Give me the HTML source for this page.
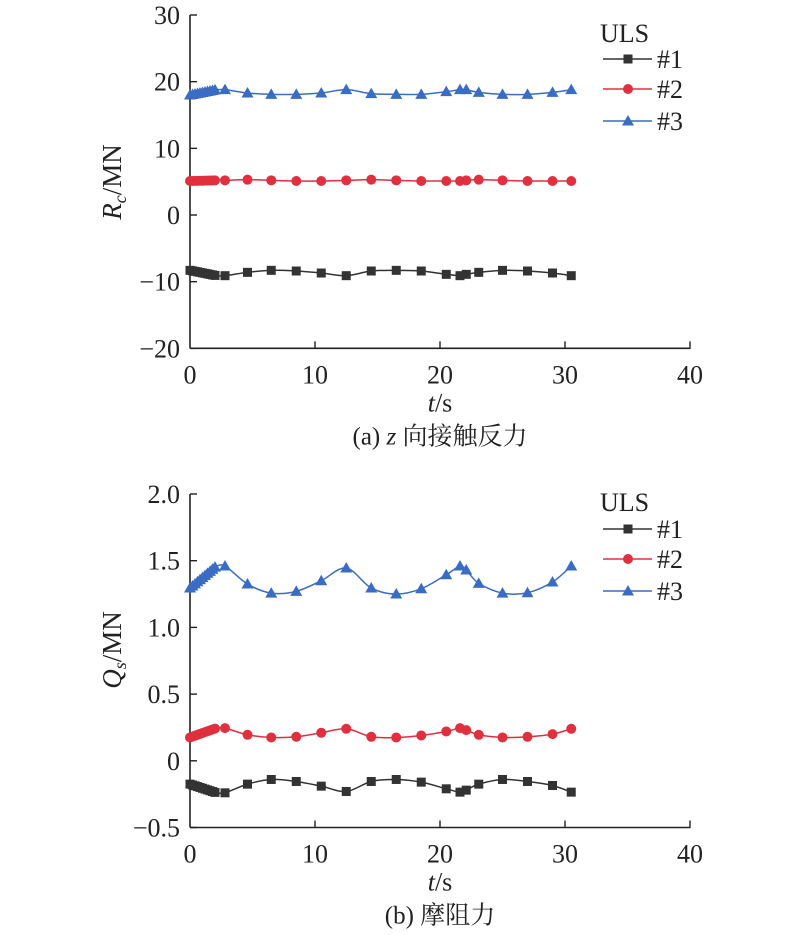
<!DOCTYPE html>
<html><head><meta charset="utf-8">
<style>
html,body{margin:0;padding:0;background:#fff;}
text{font-family:"Liberation Serif","Noto Serif CJK SC",serif;fill:#222;}
</style></head>
<body>
<svg id="s" width="800" height="930" xmlns="http://www.w3.org/2000/svg" font-family="'Liberation Serif','Noto Serif CJK SC',serif"></svg>
<script>
const S=document.getElementById('s');
let h='';
const T=[0,2.8,4.6,6.5,8.5,10.5,12.5,14.5,16.5,18.5,20.5,21.6,22.1,23.1,25,27,29,30.5];
function chart(o){
  const X=t=>190+t*12.5;
  const Y=v=>o.y0+(o.vmax-v)*o.k;
  const ybot=Y(o.vmin), ytop=Y(o.vmax);
  h+=`<line x1="190" y1="${ytop}" x2="190" y2="${ybot}" stroke="#222" stroke-width="1.6"/>`;
  h+=`<line x1="190" y1="${ybot}" x2="690.5" y2="${ybot}" stroke="#222" stroke-width="1.6"/>`;
  o.ticks.forEach(([v,l])=>{const y=Y(v);
    h+=`<line x1="190" y1="${y}" x2="197" y2="${y}" stroke="#222" stroke-width="1.4"/>`;
    h+=`<text x="180" y="${y+9}" font-size="26" text-anchor="end">${l}</text>`;});
  [0,10,20,30,40].forEach(t=>{const x=X(t);
    if(t>0)h+=`<line x1="${x}" y1="${ybot}" x2="${x}" y2="${ybot-7}" stroke="#222" stroke-width="1.4"/>`;
    h+=`<text x="${x}" y="${ybot+35}" font-size="26" text-anchor="middle">${t}</text>`;});
  h+=`<text x="440" y="${ybot+63}" font-size="26" text-anchor="middle"><tspan font-style="italic">t</tspan>/s</text>`;
  h+=`<text x="440" y="${ybot+96}" font-size="25" text-anchor="middle">${o.cap}</text>`;
  h+=`<text transform="translate(121,${o.ly}) rotate(-90)" font-size="27" text-anchor="middle">${o.ylab}</text>`;
  const cols=['#333','#e0303f','#3a6cc4'];
  o.data.forEach((d,si)=>{
    const pts=[];
    for(let i=0;i<=10;i++){const t=i*0.2;pts.push([t,d[0]+(d[1]-d[0])*(t/2)*0.95]);}
    for(let i=1;i<T.length;i++)pts.push([T[i],d[i]]);
    const P=pts.map(p=>[X(p[0]),Y(p[1])]);
    let path='M'+P[0][0]+','+P[0][1];
    for(let i=1;i<P.length;i++){
      const p0=P[Math.max(i-2,0)],p1=P[i-1],p2=P[i],p3=P[Math.min(i+1,P.length-1)];
      const c1=[p1[0]+(p2[0]-p0[0])/6,p1[1]+(p2[1]-p0[1])/6],c2=[p2[0]-(p3[0]-p1[0])/6,p2[1]-(p3[1]-p1[1])/6];
      path+=` C${c1[0]},${c1[1]} ${c2[0]},${c2[1]} ${p2[0]},${p2[1]}`;
    }
    h+=`<path d="${path}" fill="none" stroke="${cols[si]}" stroke-width="1.5"/>`;
    P.forEach(p=>h+=mk(si,p[0],p[1],cols[si]));
  });
  h+=`<text x="600" y="${o.uls}" font-size="26">ULS</text>`;
  o.leg.forEach((ly,si)=>{
    h+=`<line x1="603" y1="${ly}" x2="652" y2="${ly}" stroke="${cols[si]}" stroke-width="1.5"/>`;
    h+=mk(si,628,ly,cols[si]);
    h+=`<text x="657" y="${ly+9}" font-size="26">#${si+1}</text>`;
  });
}
function mk(si,x,y,c){
  if(si==0)return `<rect x="${x-4.5}" y="${y-4.5}" width="9" height="9" fill="${c}"/>`;
  if(si==1)return `<circle cx="${x}" cy="${y}" r="5" fill="${c}"/>`;
  return `<polygon points="${x},${y-6} ${x+6},${y+4.5} ${x-6},${y+4.5}" fill="${c}"/>`;
}
chart({y0:15,vmax:30,vmin:-20,k:6.667,uls:42,
  ticks:[[30,'30'],[20,'20'],[10,'10'],[0,'0'],[-10,'−10'],[-20,'−20']],
  cap:'(a) <tspan font-style="italic">z</tspan> 向接触反力',ly:182,
  ylab:'<tspan font-style="italic">R</tspan><tspan font-style="italic" font-size="18" dy="5">c</tspan><tspan dy="-5">/MN</tspan>',
  leg:[59,89,121],
  data:[
   [-8.3,-9.1,-8.6,-8.3,-8.4,-8.7,-9.1,-8.4,-8.3,-8.4,-8.9,-9.1,-8.9,-8.6,-8.3,-8.4,-8.7,-9.1],
   [5.1,5.2,5.3,5.2,5.1,5.1,5.2,5.3,5.2,5.1,5.1,5.1,5.2,5.3,5.2,5.1,5.1,5.1],
   [18.0,18.8,18.3,18.1,18.1,18.3,18.8,18.2,18.1,18.1,18.5,18.8,18.8,18.4,18.1,18.1,18.4,18.8]]});
chart({y0:494,vmax:2.0,vmin:-0.5,k:133.4,uls:511,
  ticks:[[2,'2.0'],[1.5,'1.5'],[1,'1.0'],[0.5,'0.5'],[0,'0'],[-0.5,'−0.5']],
  cap:'(b) 摩阻力',ly:650,
  ylab:'<tspan font-style="italic">Q</tspan><tspan font-style="italic" font-size="18" dy="5">s</tspan><tspan dy="-5">/MN</tspan>',
  leg:[529,559,591],
  data:[
   [-0.175,-0.24,-0.175,-0.14,-0.155,-0.19,-0.23,-0.155,-0.14,-0.16,-0.21,-0.235,-0.22,-0.175,-0.14,-0.155,-0.185,-0.235],
   [0.175,0.245,0.195,0.175,0.18,0.21,0.24,0.18,0.175,0.19,0.22,0.245,0.23,0.195,0.175,0.18,0.2,0.24],
   [1.295,1.46,1.325,1.257,1.27,1.35,1.445,1.295,1.25,1.29,1.395,1.46,1.43,1.33,1.257,1.26,1.34,1.46]]});
S.innerHTML=h;
</script>
</body></html>
